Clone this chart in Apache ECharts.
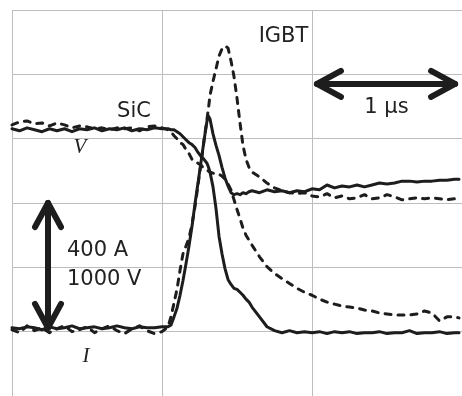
<!DOCTYPE html>
<html>
<head>
<meta charset="utf-8">
<script src="https://cdn.jsdelivr.net/npm/echarts@6/dist/echarts.min.js"></script>
<style>
  html, body { margin: 0; padding: 0; background: #ffffff; }
  #chart { width: 462px; height: 396px; }
</style>
</head>
<body>
<div id="chart"></div>
<script>
// Sample instants of the switching transient, in ns
const timeNs = [
  0, 50, 100, 150, 200, 250, 300, 350, 400, 450, 500, 550, 600, 650, 700, 750, 800, 850, 900, 950, 1000,
  1040, 1060, 1080, 1100, 1120, 1140, 1160, 1180, 1200, 1220, 1240, 1260, 1280, 1300, 1310,
  1320, 1340, 1360, 1380, 1400, 1420, 1440, 1460, 1480, 1500, 1520, 1540, 1560, 1580, 1600,
  1650, 1700, 1750, 1800, 1850, 1900, 1950, 2000, 2050, 2100, 2150, 2200, 2250, 2300, 2350,
  2400, 2450, 2500, 2550, 2600, 2650, 2700, 2750, 2800, 2850, 2900, 2950, 2980
];

// SiC device voltage (V), solid trace
const sicVoltage = [
  1577, 1561, 1584, 1569, 1554, 1577, 1561, 1577, 1554, 1577, 1569, 1584, 1561, 1577, 1569, 1584, 1561, 1577, 1569, 1584, 1577,
  1577, 1569, 1569, 1554, 1538, 1515, 1492, 1469, 1454, 1431, 1393, 1362, 1339, 1309, 1278,
  1240, 1125, 957, 742, 605, 490, 406, 367, 337, 329, 306, 283, 253, 230, 191,
  115, 38, 8, -8, 8, -8, 0, -8, 0, -15, 0, -8, 0, -15, -8,
  -8, 0, -15, -8, -8, 8, -15, -8, -8, 0, -15, -8, -8
];

// IGBT voltage (V), dashed trace
const igbtVoltage = [
  1607, 1630, 1638, 1615, 1622, 1599, 1622, 1607, 1584, 1599, 1592, 1577, 1584, 1569, 1584, 1577, 1584, 1561, 1592, 1599, 1584,
  1569, 1554, 1523, 1500, 1469, 1454, 1416, 1385, 1339, 1324, 1309, 1293, 1270, 1255, 1247,
  1240, 1232, 1224, 1224, 1209, 1186, 1148, 1102, 1026, 949, 880, 804, 750, 712, 673,
  582, 505, 452, 413, 375, 337, 306, 283, 253, 230, 214, 199, 191, 184, 168,
  161, 145, 138, 130, 130, 130, 138, 161, 145, 84, 115, 115, 107
];

// SiC device current (A), solid trace
const sicCurrent = [
  12, 9, 15, 12, 6, 15, 9, 12, 18, 9, 12, 15, 9, 12, 18, 12, 9, 15, 12, 12, 15,
  15, 21, 46, 73, 113, 159, 211, 266, 328, 398, 462, 527, 594, 655, 670,
  661, 615, 579, 548, 511, 478, 453, 432, 426, 429, 426, 432, 429, 435, 438,
  432, 441, 435, 438, 432, 438, 435, 444, 441, 456, 447, 453, 450, 456, 450,
  456, 462, 459, 462, 468, 468, 465, 468, 468, 471, 471, 474, 474
];

// IGBT current (A), dashed trace
const igbtCurrent = [
  6, -3, 18, 3, 12, -3, 9, 18, 0, 6, 15, -3, 9, 18, 3, -6, 9, 18, 3, -6, 0,
  15, 46, 89, 132, 190, 242, 266, 291, 334, 389, 456, 523, 594, 661, 695,
  735, 778, 817, 857, 879, 888, 882, 842, 793, 726, 649, 579, 536, 511, 496,
  481, 462, 447, 438, 432, 429, 432, 422, 419, 429, 416, 422, 413, 416, 426,
  413, 416, 426, 419, 410, 413, 416, 413, 416, 413, 410, 413, 416
];

const pairs = (vals) => timeNs.map((t, i) => [t, vals[i]]);

const ink = '#1d1d1d';
const solid = { color: ink, width: 3, type: 'solid', join: 'round', cap: 'round' };
const dashed = { color: ink, width: 3, type: [6, 7], join: 'round', cap: 'round' };

function traceSeries(name, vals, axis, style, z) {
  return {
    name: name,
    type: 'line',
    yAxisIndex: axis,
    data: pairs(vals),
    showSymbol: false,
    symbol: 'none',
    silent: true,
    z: z,
    lineStyle: style
  };
}

// double-headed scale arrows, endpoints in data units [t1, y1, t2, y2]
function arrowItem(params, api) {
  const a = api.coord([api.value(0), api.value(1)]);
  const b = api.coord([api.value(2), api.value(3)]);
  const dx = b[0] - a[0], dy = b[1] - a[1];
  const len = Math.hypot(dx, dy);
  const ux = dx / len, uy = dy / len;
  const px = -uy, py = ux;
  const L = 24, W = 13;
  const head = (p, s) => [
    [p[0] + s * ux * L + px * W, p[1] + s * uy * L + py * W],
    [p[0], p[1]],
    [p[0] + s * ux * L - px * W, p[1] + s * uy * L - py * W]
  ];
  const st = { stroke: ink, lineWidth: 6, lineCap: 'round', lineJoin: 'round', fill: null };
  return {
    type: 'group',
    children: [
      { type: 'line', shape: { x1: a[0], y1: a[1], x2: b[0], y2: b[1] }, style: st },
      { type: 'polyline', shape: { points: head(a, 1) }, style: st },
      { type: 'polyline', shape: { points: head(b, -1) }, style: st }
    ]
  };
}

const sans = '"DejaVu Sans", Verdana, sans-serif';
const serif = '"Liberation Serif", "DejaVu Serif", serif';
function label(text, x, y, align, family, style) {
  return {
    type: 'text', x: x, y: y, z: 100,
    style: {
      text: text, fill: '#222222', fontSize: 21, fontFamily: family,
      fontStyle: style || 'normal', align: align, verticalAlign: 'middle'
    }
  };
}

const chart = echarts.init(document.getElementById('chart'), null, { renderer: 'canvas' });
const gridLine = { show: true, lineStyle: { color: '#bdbdbd', width: 1 } };

chart.setOption({
  animation: false,
  backgroundColor: '#ffffff',
  grid: { left: 12, right: -3, top: 10, bottom: -5.8, containLabel: false },
  xAxis: {
    type: 'value', min: 0, max: 3000, interval: 1000,
    axisLine: { show: false }, axisTick: { show: false }, axisLabel: { show: false },
    splitLine: gridLine
  },
  yAxis: [
    {
      type: 'value', min: -200, max: 1000, interval: 200,
      axisLine: { show: false }, axisTick: { show: false }, axisLabel: { show: false },
      splitLine: gridLine
    },
    {
      type: 'value', min: -500, max: 2500, interval: 500, show: false,
      splitLine: { show: false }
    }
  ],
  series: [
    traceSeries('IGBT V', igbtVoltage, 1, dashed, 2),
    traceSeries('IGBT I', igbtCurrent, 0, dashed, 2),
    traceSeries('SiC V', sicVoltage, 1, solid, 3),
    traceSeries('SiC I', sicCurrent, 0, solid, 3),
    {
      type: 'custom',
      name: 'scale',
      yAxisIndex: 0,
      silent: true,
      z: 5,
      renderItem: arrowItem,
      encode: { x: [0, 2], y: [1, 3] },
      data: [
        [240, 12, 240, 400],
        [2033, 770, 2954, 770]
      ]
    }
  ],
  graphic: [
    label('IGBT', 283.5, 37, 'center', sans),
    label('SiC', 134, 111.5, 'center', sans),
    label('V', 80, 147.5, 'center', serif, 'italic'),
    label('1 µs', 386.5, 107.5, 'center', sans),
    label('400 A', 67, 250.5, 'left', sans),
    label('1000 V', 67, 279.5, 'left', sans),
    label('I', 86, 356.5, 'center', serif, 'italic')
  ]
});
</script>
</body>
</html>
